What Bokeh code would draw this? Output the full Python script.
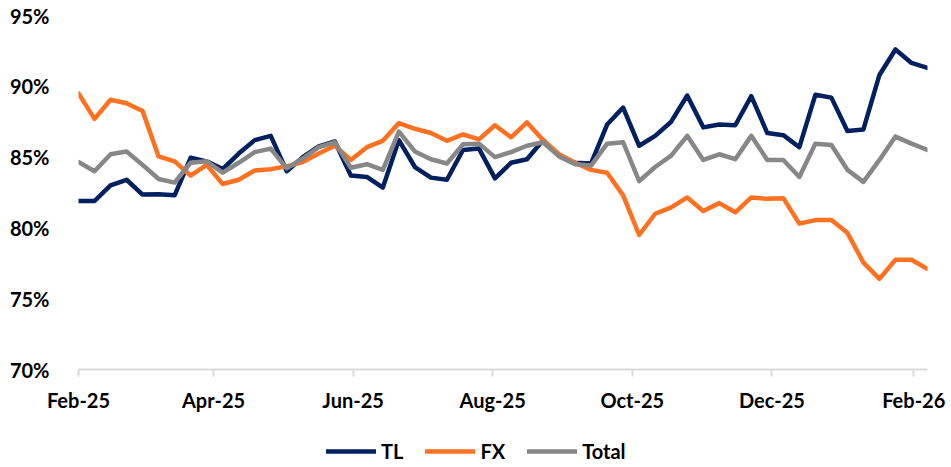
import pandas as pd
from bokeh.plotting import figure
from bokeh.layouts import column
from bokeh.models import (Legend, LegendItem, FixedTicker, DatetimeTickFormatter,
                          PrintfTickFormatter, Range1d, ColumnDataSource)
from bokeh.embed import file_html
from bokeh.resources import INLINE

# weekly observation dates (Fridays), Feb 7 2025 .. Feb 13 2026
start_date = "2025-02-07"
n_weeks = 54

tl = [81.9, 81.9, 83.0, 83.4, 82.35, 82.38, 82.3, 84.95, 84.7, 84.15,
      85.25, 86.2, 86.5, 84.0, 85.0, 85.75, 86.1, 83.7, 83.6, 82.85,
      86.2, 84.3, 83.55, 83.4, 85.5, 85.6, 83.5, 84.6, 84.85, 86.2,
      85.1, 84.6, 84.55, 87.3, 88.5, 85.8, 86.5, 87.5, 89.35, 87.1,
      87.3, 87.25, 89.3, 86.7, 86.55, 85.7, 89.4, 89.2, 86.85, 86.95,
      90.8, 92.6, 91.65, 91.3]

fx = [89.5, 87.7, 89.05, 88.8, 88.25, 85.05, 84.7, 83.7, 84.45, 83.1,
      83.4, 84.05, 84.15, 84.35, 84.65, 85.25, 85.8, 84.8, 85.7, 86.15,
      87.4, 87.0, 86.7, 86.15, 86.6, 86.25, 87.25, 86.4, 87.45, 86.2,
      85.2, 84.6, 84.1, 83.9, 82.3, 79.5, 81.0, 81.45, 82.15, 81.2,
      81.75, 81.1, 82.15, 82.05, 82.1, 80.3, 80.55, 80.55, 79.65, 77.55,
      76.4, 77.75, 77.75, 77.1]

total = [84.65, 84.0, 85.2, 85.4, 84.45, 83.45, 83.2, 84.6, 84.7, 83.9,
         84.6, 85.35, 85.6, 84.2, 84.9, 85.7, 86.05, 84.25, 84.5, 84.1,
         86.8, 85.4, 84.85, 84.55, 85.9, 85.95, 85.0, 85.35, 85.8, 86.05,
         85.05, 84.5, 84.4, 85.95, 86.05, 83.3, 84.3, 85.1, 86.5, 84.8,
         85.2, 84.85, 86.5, 84.8, 84.8, 83.6, 85.95, 85.85, 84.1, 83.25,
         84.8, 86.45, 85.95, 85.5]

x_tick_dates = ["2025-02-07", "2025-04-07", "2025-06-07", "2025-08-07",
                "2025-10-07", "2025-12-07", "2026-02-07"]
y_ticks = [70, 75, 80, 85, 90, 95]

series_names = ["TL", "FX", "Total"]
series_colors = ["#002060", "#FF7020", "#878787"]

dates = pd.date_range(start_date, periods=n_weeks, freq="7D")
src = ColumnDataSource(dict(date=dates, TL=tl, FX=fx, Total=total))

FONT = "Lato"
LINE_W = 4.5

p = figure(width=949, height=420, x_axis_type="datetime",
           output_backend="svg", toolbar_location=None,
           x_range=Range1d(dates[0], dates[-1]), y_range=Range1d(70, 95),
           min_border_left=78, min_border_right=22,
           min_border_top=15, min_border_bottom=51)

for name, col in zip(series_names, series_colors):
    p.line("date", name, source=src, line_color=col, line_width=LINE_W,
           line_join="round", line_cap="round")

p.grid.visible = False
p.outline_line_color = None
p.background_fill_color = "white"
p.border_fill_color = "white"

tick_ms = [pd.Timestamp(d).value / 1e6 for d in x_tick_dates]
xa = p.xaxis[0]
xa.ticker = FixedTicker(ticks=tick_ms)
xa.formatter = DatetimeTickFormatter(
    milliseconds="%b-%y", seconds="%b-%y", minsec="%b-%y", minutes="%b-%y",
    hourmin="%b-%y", hours="%b-%y", days="%b-%y", months="%b-%y", years="%b-%y")
xa.axis_line_color = "#D9D9D9"
xa.axis_line_width = 2
xa.major_tick_line_color = "#D9D9D9"
xa.major_tick_line_width = 2
xa.major_tick_in = 0
xa.major_tick_out = 7
xa.minor_tick_line_color = None
xa.major_label_standoff = 11
xa.major_label_text_font = FONT
xa.major_label_text_font_style = "bold"
xa.major_label_text_font_size = "20px"
xa.major_label_text_color = "black"

ya = p.yaxis[0]
ya.ticker = FixedTicker(ticks=y_ticks)
ya.formatter = PrintfTickFormatter(format="%d%%")
ya.axis_line_color = None
ya.major_tick_line_color = None
ya.minor_tick_line_color = None
ya.major_label_standoff = 23
ya.major_label_text_font = FONT
ya.major_label_text_font_style = "bold"
ya.major_label_text_font_size = "20px"
ya.major_label_text_color = "black"

# legend strip below the chart (series drawn out of its visible range,
# only so that the legend swatches have a renderer to sample)
lg = figure(width=949, height=47, output_backend="svg", toolbar_location=None,
            x_axis_location=None, y_axis_location=None,
            x_range=Range1d(0, 1), y_range=Range1d(0, 1), min_border=0)
lg.grid.visible = False
lg.outline_line_color = None
lg.border_fill_color = "white"
lg.background_fill_color = "white"
swatches = []
for name, col in zip(series_names, series_colors):
    swatches.append(lg.line("date", name, source=src, line_color=col,
                            line_width=LINE_W, line_cap="round"))

legend = Legend(
    items=[LegendItem(label=n, renderers=[r]) for n, r in zip(series_names, swatches)],
    location=(248, 4), orientation="horizontal",
    glyph_width=50, glyph_height=20, label_height=20, label_standoff=5,
    spacing=22, padding=0, margin=0,
    border_line_color=None, background_fill_alpha=0,
    label_text_font=FONT, label_text_font_style="bold",
    label_text_font_size="20px", label_text_color="black")
lg.add_layout(legend)

layout = column(p, lg, spacing=0)
open("out.html", "w").write(file_html(layout, INLINE))
